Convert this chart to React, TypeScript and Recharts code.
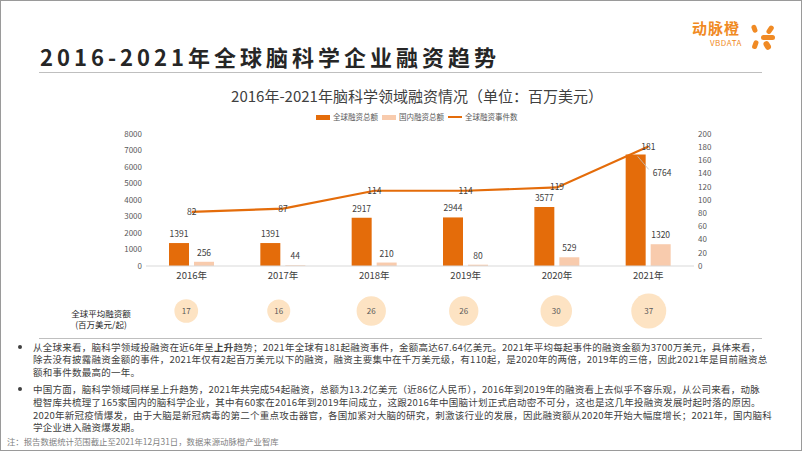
import React from "react";
import {
  ComposedChart,
  Bar,
  Line,
  XAxis,
  YAxis,
  ScatterChart,
  Scatter,
  ZAxis,
  LabelList,
} from "recharts";

const years = ["2016年", "2017年", "2018年", "2019年", "2020年", "2021年"];
const globalAmount = [1391, 1391, 2917, 2944, 3577, 6764];
const domesticAmount = [256, 44, 210, 80, 529, 1320];
const globalEvents = [82, 87, 114, 114, 119, 181];
const avgAmount = [17, 16, 26, 26, 30, 37];

const leftTicks = [0, 1000, 2000, 3000, 4000, 5000, 6000, 7000, 8000];
const rightTicks = [0, 20, 40, 60, 80, 100, 120, 140, 160, 180, 200];

const seriesNames = ["全球融资总额", "国内融资总额", "全球融资事件数"];
const avgLabel = ["全球平均融资额", "(百万美元/起)"];

const ORANGE = "#e46c0a";
const PEACH = "#f8cbad";
const BUBBLE = "#fde3c3";
const FONT = '"Noto Sans CJK SC", "Noto Sans", sans-serif';

const data = years.map((year, i) => ({
  year,
  global: globalAmount[i],
  domestic: domesticAmount[i],
  events: globalEvents[i],
}));

const bubbles = years.map((year, i) => ({ year, row: "avg", avg: avgAmount[i] }));

const para1 = [
  <>从全球来看，脑科学领域投融资在近6年呈<b>上升</b>趋势；2021年全球有181起融资事件，金额高达67.64亿美元。2021年平均每起事件的融资金额为3700万美元，具体来看，</>,
  <>除去没有披露融资金额的事件，2021年仅有2起百万美元以下的融资，融资主要集中在千万美元级，有110起，是2020年的两倍，2019年的三倍，因此2021年是目前融资总</>,
  <>额和事件数最高的一年。</>,
];
const para2 = [
  <>中国方面，脑科学领域同样呈上升趋势，2021年共完成54起融资，总额为13.2亿美元（近86亿人民币），2016年到2019年的融资看上去似乎不容乐观，从公司来看，动脉</>,
  <>橙智库共梳理了165家国内的脑科学企业，其中有60家在2016年到2019年间成立，这跟2016年中国脑计划正式启动密不可分，这也是这几年投融资发展时起时落的原因。</>,
  <>2020年新冠疫情爆发，由于大脑是新冠病毒的第二个重点攻击器官，各国加紧对大脑的研究，刺激该行业的发展，因此融资额从2020年开始大幅度增长；2021年，国内脑科</>,
  <>学企业进入融资爆发期。</>,
];

const maxGlobal = Math.max(...globalAmount);

const GlobalLabel = (p: any) => {
  const { x, y, width, value } = p;
  if (value === maxGlobal) {
    return (
      <g>
        <line x1={x + width - 8} y1={y + 2} x2={x + width + 3} y2={y + 15} stroke="#bfbfbf" strokeWidth={0.8} />
        <text x={x + width + 7} y={y + 22} fontSize={8.5} fill="#404040" fontFamily={FONT}>
          {value}
        </text>
      </g>
    );
  }
  return (
    <text x={x + width / 2} y={y - 6} textAnchor="middle" fontSize={8.5} fill="#404040" fontFamily={FONT}>
      {value}
    </text>
  );
};

const PlainLabel = (p: any) => (
  <text x={p.x + p.width / 2} y={p.y - 6} textAnchor="middle" fontSize={8.5} fill="#404040" fontFamily={FONT}>
    {p.value}
  </text>
);

const EventLabel = (p: any) => (
  <text x={p.x} y={p.y + 3} textAnchor="middle" fontSize={8.5} fill="#404040" fontFamily={FONT}>
    {p.value}
  </text>
);

const RowTick = (p: any) => (
  <g>
    <text x={101} y={p.y + 6} textAnchor="middle" fontSize={8.5} fill="#262626" fontFamily={FONT}>
      {avgLabel[0]}
    </text>
    <text x={101} y={p.y + 16.5} textAnchor="middle" fontSize={8.5} fill="#262626" fontFamily={FONT}>
      {avgLabel[1]}
    </text>
  </g>
);

function Logo() {
  return (
    <div style={{ position: "absolute", left: 692, top: 18 }}>
      <div style={{ fontSize: 15, fontWeight: 700, color: "#f08a24", letterSpacing: 1, lineHeight: "20px" }}>动脉橙</div>
      <div style={{ fontSize: 8, color: "#f08a24", marginLeft: 18, lineHeight: "10px", letterSpacing: 0.5 }}>VBDATA</div>
      <svg width={28} height={30} style={{ position: "absolute", left: 59, top: 5 }}>
        <rect x={1} y={2} width={5} height={8} rx={2.5} fill="#f08a24" transform="rotate(-20 3 6)" />
        <rect x={17} y={2} width={5} height={9} rx={2.5} fill="#f08a24" transform="rotate(35 19 6)" />
        <rect x={10} y={12} width={14} height={5} rx={2.5} fill="#f08a24" />
        <rect x={2} y={17} width={5} height={9} rx={2.5} fill="#f08a24" transform="rotate(20 4 21)" />
        <rect x={13} y={18} width={6} height={9} rx={3} fill="#f08a24" transform="rotate(-30 16 22)" />
      </svg>
    </div>
  );
}

export default function App() {
  const legendColors = [ORANGE, PEACH, ORANGE];
  return (
    <div
      style={{
        position: "absolute",
        left: 0,
        top: 0,
        width: 802,
        height: 451,
        background: "#fff",
        fontFamily: FONT,
        overflow: "hidden",
      }}
    >
      <div style={{ position: "absolute", left: 0, top: 0, width: 800, height: 449, border: "1px solid #9a9a9a" }} />

      <div
        style={{
          position: "absolute",
          left: 40,
          top: 42,
          fontSize: 22,
          fontWeight: 700,
          letterSpacing: 4,
          color: "#262626",
          lineHeight: "28px",
          whiteSpace: "nowrap",
        }}
      >
        2016-2021年全球脑科学企业融资趋势
      </div>
      <div style={{ position: "absolute", left: 39, top: 72, width: 723, height: 1, background: "#bfbfbf" }} />
      <Logo />

      <div
        style={{
          position: "absolute",
          left: 0,
          width: 834,
          top: 86,
          textAlign: "center",
          fontSize: 15,
          color: "#404040",
          lineHeight: "20px",
          whiteSpace: "nowrap",
        }}
      >
        2016年-2021年脑科学领域融资情况（单位：百万美元）
      </div>

      <div
        style={{
          position: "absolute",
          left: 316,
          top: 111,
          display: "flex",
          alignItems: "center",
          fontSize: 7.5,
          color: "#595959",
          lineHeight: "12px",
          whiteSpace: "nowrap",
        }}
      >
        {seriesNames.map((n, i) => (
          <div key={n} style={{ display: "flex", alignItems: "center", marginRight: 4 }}>
            {i < 2 ? (
              <div style={{ width: 14, height: 5, background: legendColors[i], marginRight: 3 }} />
            ) : (
              <div style={{ width: 14, height: 2, background: legendColors[i], marginRight: 3 }} />
            )}
            <span>{n}</span>
          </div>
        ))}
      </div>

      <div style={{ position: "absolute", left: 0, top: 0 }}>
        <ComposedChart
          width={802}
          height={300}
          data={data}
          margin={{ top: 134, right: 68, bottom: 14, left: 96 }}
          barSize={20}
          barGap={5}
        >
          <XAxis
            dataKey="year"
            tickLine={false}
            axisLine={{ stroke: "#d9d9d9" }}
            tickMargin={0}
            tick={{ fontSize: 9.5, fill: "#404040", fontFamily: FONT }}
            height={20}
          />
          <YAxis
            yAxisId="left"
            domain={[0, 8000]}
            ticks={leftTicks}
            width={50}
            tickLine={false}
            axisLine={false}
            tickSize={2}
            tickMargin={2}
            interval={0}
            tick={{ fontSize: 8, fill: "#595959", fontFamily: FONT }}
          />
          <YAxis
            yAxisId="right"
            orientation="right"
            domain={[0, 200]}
            ticks={rightTicks}
            width={40}
            tickLine={false}
            axisLine={false}
            tickSize={2}
            tickMargin={2}
            interval={0}
            tick={{ fontSize: 8, fill: "#595959", fontFamily: FONT }}
          />
          <Bar yAxisId="left" dataKey="global" name={seriesNames[0]} fill={ORANGE} isAnimationActive={false}>
            <LabelList dataKey="global" content={GlobalLabel} />
          </Bar>
          <Bar yAxisId="left" dataKey="domestic" name={seriesNames[1]} fill={PEACH} isAnimationActive={false}>
            <LabelList dataKey="domestic" content={PlainLabel} />
          </Bar>
          <Line
            yAxisId="right"
            dataKey="events"
            name={seriesNames[2]}
            stroke={ORANGE}
            strokeWidth={2.2}
            dot={false}
            type="linear"
            isAnimationActive={false}
          >
            <LabelList dataKey="events" content={EventLabel} />
          </Line>
        </ComposedChart>
      </div>

      <div style={{ position: "absolute", left: 0, top: 285 }}>
        <ScatterChart width={802} height={52} margin={{ top: 0, right: 107, bottom: 0, left: 40 }}>
          <XAxis dataKey="year" type="category" allowDuplicatedCategory={false} hide />
          <YAxis
            dataKey="row"
            type="category"
            allowDuplicatedCategory={false}
            width={100}
            axisLine={false}
            tickLine={false}
            tick={RowTick}
          />
          <ZAxis dataKey="avg" type="number" domain={[0, 37]} range={[0, 962]} />
          <Scatter data={bubbles} fill={BUBBLE} isAnimationActive={false}>
            <LabelList dataKey="avg" position="center" style={{ fontSize: 8, fill: "#595959", fontFamily: FONT }} />
          </Scatter>
        </ScatterChart>
      </div>

      <div style={{ position: "absolute", left: 39, top: 338, width: 723, height: 1, background: "#bfbfbf" }} />

      <div style={{ position: "absolute", left: 0, top: 340.6, fontSize: 9.5, color: "#404040", lineHeight: "12.8px", letterSpacing: 0.25 }}>
        {[para1, para2].map((para, pi) => (
          <div key={pi} style={{ position: "relative", marginBottom: pi === 0 ? 4 : 0 }}>
            <div style={{ position: "absolute", left: 18, top: 4.5, width: 4, height: 4, borderRadius: 2, background: "#404040" }} />
            {para.map((line, li) => (
              <div key={li} style={{ marginLeft: 33, whiteSpace: "nowrap" }}>
                {line}
              </div>
            ))}
          </div>
        ))}
      </div>

      <div style={{ position: "absolute", left: 7, top: 435, fontSize: 8.4, color: "#7f7f7f", lineHeight: "12px", whiteSpace: "nowrap" }}>
        注：报告数据统计范围截止至2021年12月31日，数据来源动脉橙产业智库
      </div>
    </div>
  );
}
